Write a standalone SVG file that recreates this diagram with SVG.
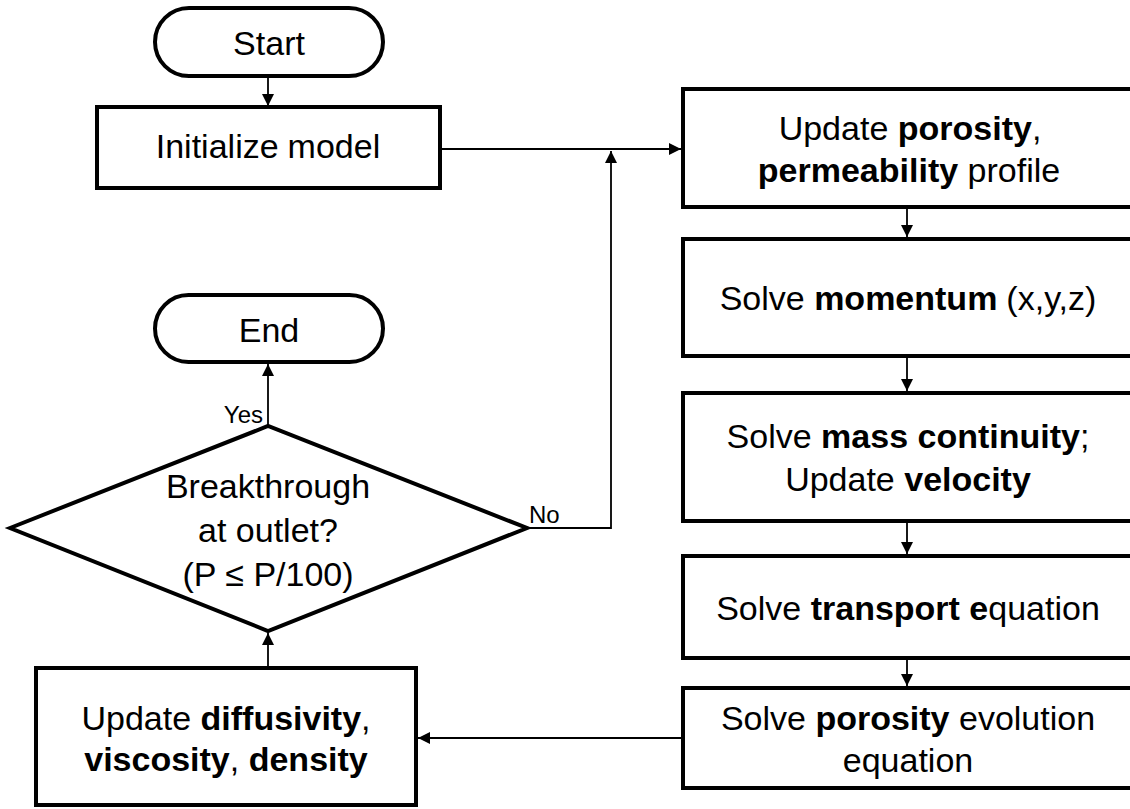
<svg xmlns="http://www.w3.org/2000/svg" width="1130" height="809" viewBox="0 0 1130 809">
<style>
.box{fill:#fff;stroke:#000;stroke-width:4}
.t{font-family:"Liberation Sans",Arial,sans-serif;font-size:34px;fill:#000;text-anchor:middle}
.b{font-weight:bold}
.lbl{font-family:"Liberation Sans",Arial,sans-serif;font-size:24px;fill:#000}
.c{fill:none;stroke:#000;stroke-width:1.8}
</style>
<defs>
<marker id="arr" markerUnits="userSpaceOnUse" markerWidth="12" markerHeight="12" refX="12" refY="6" orient="auto">
<path d="M0,0 L12,6 L0,12 z" fill="#000"/>
</marker>
</defs>
<rect width="1130" height="809" fill="#fff"/>
<g id="connectors">
<path class="c" d="M268,77 V106" marker-end="url(#arr)"/>
<path class="c" d="M441,149 H681" marker-end="url(#arr)"/>
<path class="c" d="M527,528 H611 V151" marker-end="url(#arr)"/>
<path class="c" d="M907,208 V237" marker-end="url(#arr)"/>
<path class="c" d="M907,357 V391" marker-end="url(#arr)"/>
<path class="c" d="M907,522 V554" marker-end="url(#arr)"/>
<path class="c" d="M907,659 V686" marker-end="url(#arr)"/>
<path class="c" d="M683,738 H418" marker-end="url(#arr)"/>
<path class="c" d="M268,667 V633" marker-end="url(#arr)"/>
<path class="c" d="M268,425 V364" marker-end="url(#arr)"/>
</g>
<g id="start">
<rect class="box" x="155" y="8" width="228" height="68" rx="34"/>
<text class="t" x="269" y="55">Start</text>
</g>
<g id="init">
<rect class="box" x="97" y="107" width="343" height="81"/>
<text class="t" x="268" y="158">Initialize<tspan dx="9">model</tspan></text>
</g>
<g id="end">
<rect class="box" x="155" y="295" width="228" height="67" rx="33.5"/>
<text class="t" x="269" y="342">End</text>
</g>
<g id="decision">
<polygon class="box" points="10,528 268,426 527,528 268,631"/>
<text class="t" x="268" y="498">Breakthrough</text>
<text class="t" x="268" y="542">at outlet?</text>
<text class="t" x="268" y="586">(P ≤ P/100)</text>
<text class="lbl" x="263" y="423" text-anchor="end">Yes</text>
<text class="lbl" x="529" y="523">No</text>
</g>
<g id="update-props">
<rect class="box" x="683" y="89" width="470" height="118"/>
<text class="t" x="910" y="140">Update <tspan class="b">porosity</tspan>,</text>
<text class="t" x="909" y="182"><tspan class="b">permeability</tspan> profile</text>
</g>
<g id="momentum">
<rect class="box" x="683" y="239" width="470" height="117"/>
<text class="t" x="908" y="310">Solve <tspan class="b">momentum</tspan><tspan dx="9">(x,y,z)</tspan></text>
</g>
<g id="continuity">
<rect class="box" x="683" y="393" width="470" height="128"/>
<text class="t" x="908" y="448">Solve <tspan class="b">mass continuity</tspan>;</text>
<text class="t" x="908" y="491">Update <tspan class="b">velocity</tspan></text>
</g>
<g id="transport">
<rect class="box" x="683" y="556" width="470" height="102"/>
<text class="t" x="908" y="620">Solve <tspan class="b">transport e</tspan>quation</text>
</g>
<g id="porosity-evolution">
<rect class="box" x="683" y="688" width="470" height="100"/>
<text class="t" x="908" y="730">Solve <tspan class="b">porosity</tspan> evolution</text>
<text class="t" x="908" y="772">equation</text>
</g>
<g id="update-fluid">
<rect class="box" x="36" y="668" width="380" height="137"/>
<text class="t" x="226" y="730">Update <tspan class="b">diffusivity</tspan>,</text>
<text class="t" x="226" y="771"><tspan class="b">viscosity</tspan>, <tspan class="b">density</tspan></text>
</g>
</svg>
